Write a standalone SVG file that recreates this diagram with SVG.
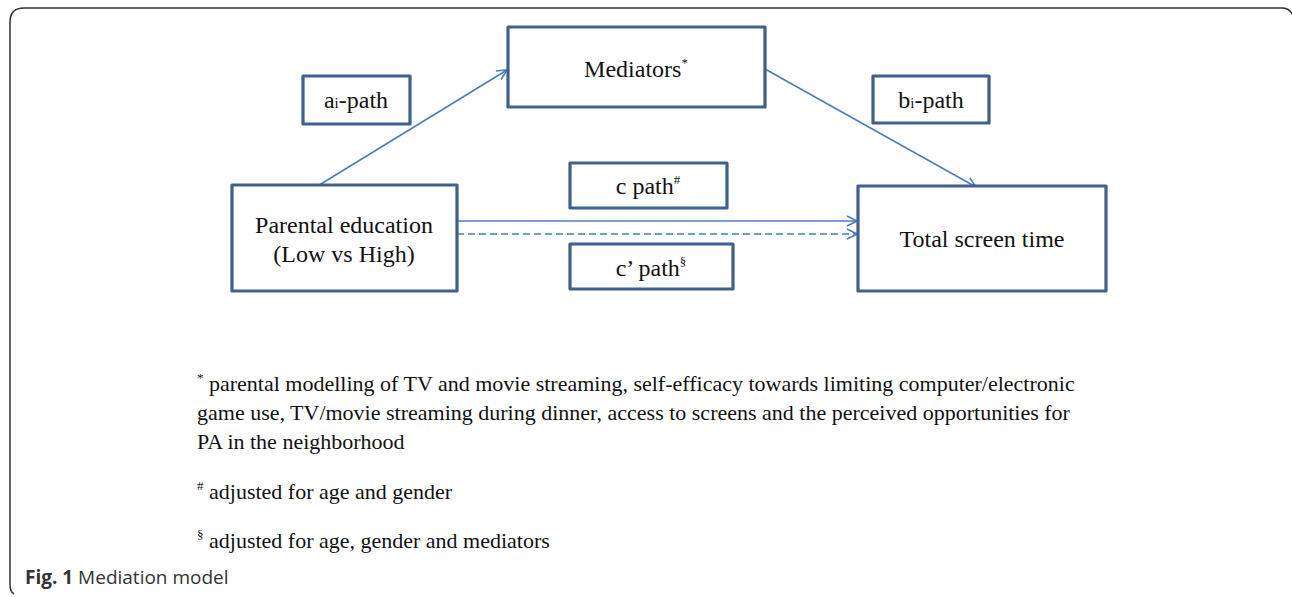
<svg xmlns="http://www.w3.org/2000/svg" width="1292" height="597" viewBox="0 0 1292 597">
<defs>
<style>
.box{fill:#fff;stroke:#3F5F8C;stroke-width:3.2;stroke-linejoin:round}
.t{font-family:"Liberation Serif","Times New Roman",serif;font-size:24px;fill:#111;text-anchor:middle}
.fn{font-family:"Liberation Serif","Times New Roman",serif;font-size:22px;fill:#111}
.sup{font-size:13px}
.sub{font-size:15px}
.conn{stroke:#4A7EBB;stroke-width:1.6;fill:none}
.cap{font-family:"Open Sans","Noto Sans",sans-serif;font-size:19px;fill:#333}
</style>
<marker id="arr" viewBox="0 0 12 12" refX="11" refY="6" markerWidth="12" markerHeight="12" markerUnits="userSpaceOnUse" orient="auto">
<path d="M1,1 L11,6 L1,11" fill="none" stroke="#4A7EBB" stroke-width="1.6"/>
</marker>
</defs>
<rect width="1292" height="597" fill="#fff"/>
<path d="M14 594 Q10 592 10 584 L10 22 Q10 8 24 8 L1282 8 Q1290 8 1293 16" fill="none" stroke="#333" stroke-width="1.5"/>
<g id="connectors">
<line class="conn" x1="316" y1="187" x2="507" y2="70" marker-end="url(#arr)"/>
<line class="conn" x1="765" y1="69" x2="976" y2="187" marker-end="url(#arr)"/>
<line class="conn" x1="457" y1="221" x2="857" y2="221" marker-end="url(#arr)"/>
<line class="conn" x1="457" y1="234" x2="857" y2="234" stroke-dasharray="7,4" marker-end="url(#arr)"/>
</g>
<g id="mediators">
<rect class="box" x="508" y="27" width="257" height="80"/>
<text class="t" x="636" y="77">Mediators<tspan class="sup" dy="-10">*</tspan></text>
</g>
<g id="ai-path">
<rect class="box" x="303" y="76" width="107" height="48"/>
<text class="t" x="356" y="108">a<tspan class="sub">i</tspan>-path</text>
</g>
<g id="bi-path">
<rect class="box" x="873" y="76" width="116" height="47"/>
<text class="t" x="931" y="108">b<tspan class="sub">i</tspan>-path</text>
</g>
<g id="c-path">
<rect class="box" x="570" y="163" width="157" height="45"/>
<text class="t" x="648" y="194">c path<tspan class="sup" dy="-10">#</tspan></text>
</g>
<g id="c-prime-path">
<rect class="box" x="570" y="244" width="163" height="45"/>
<text class="t" x="651" y="276">c’ path<tspan class="sup" dy="-10">§</tspan></text>
</g>
<g id="parental-education">
<rect class="box" x="232" y="185" width="225" height="106"/>
<text class="t" x="344" y="233">Parental education</text>
<text class="t" x="344" y="262">(Low vs High)</text>
</g>
<g id="total-screen-time">
<rect class="box" x="858" y="186" width="248" height="105"/>
<text class="t" x="982" y="247">Total screen time</text>
</g>
<g id="footnotes">
<text class="fn" x="197" y="391"><tspan class="sup" dy="-9">*</tspan><tspan dy="9"> parental modelling of TV and movie streaming, self-efficacy towards limiting computer/electronic</tspan></text>
<text class="fn" x="197" y="420">game use, TV/movie streaming during dinner, access to screens and the perceived opportunities for</text>
<text class="fn" x="197" y="449">PA in the neighborhood</text>
<text class="fn" x="197" y="499"><tspan class="sup" dy="-9">#</tspan><tspan dy="9"> adjusted for age and gender</tspan></text>
<text class="fn" x="197" y="548"><tspan class="sup" dy="-9">§</tspan><tspan dy="9"> adjusted for age, gender and mediators</tspan></text>
</g>
<text class="cap" x="25" y="584"><tspan font-weight="bold">Fig. 1</tspan> Mediation model</text>
</svg>
